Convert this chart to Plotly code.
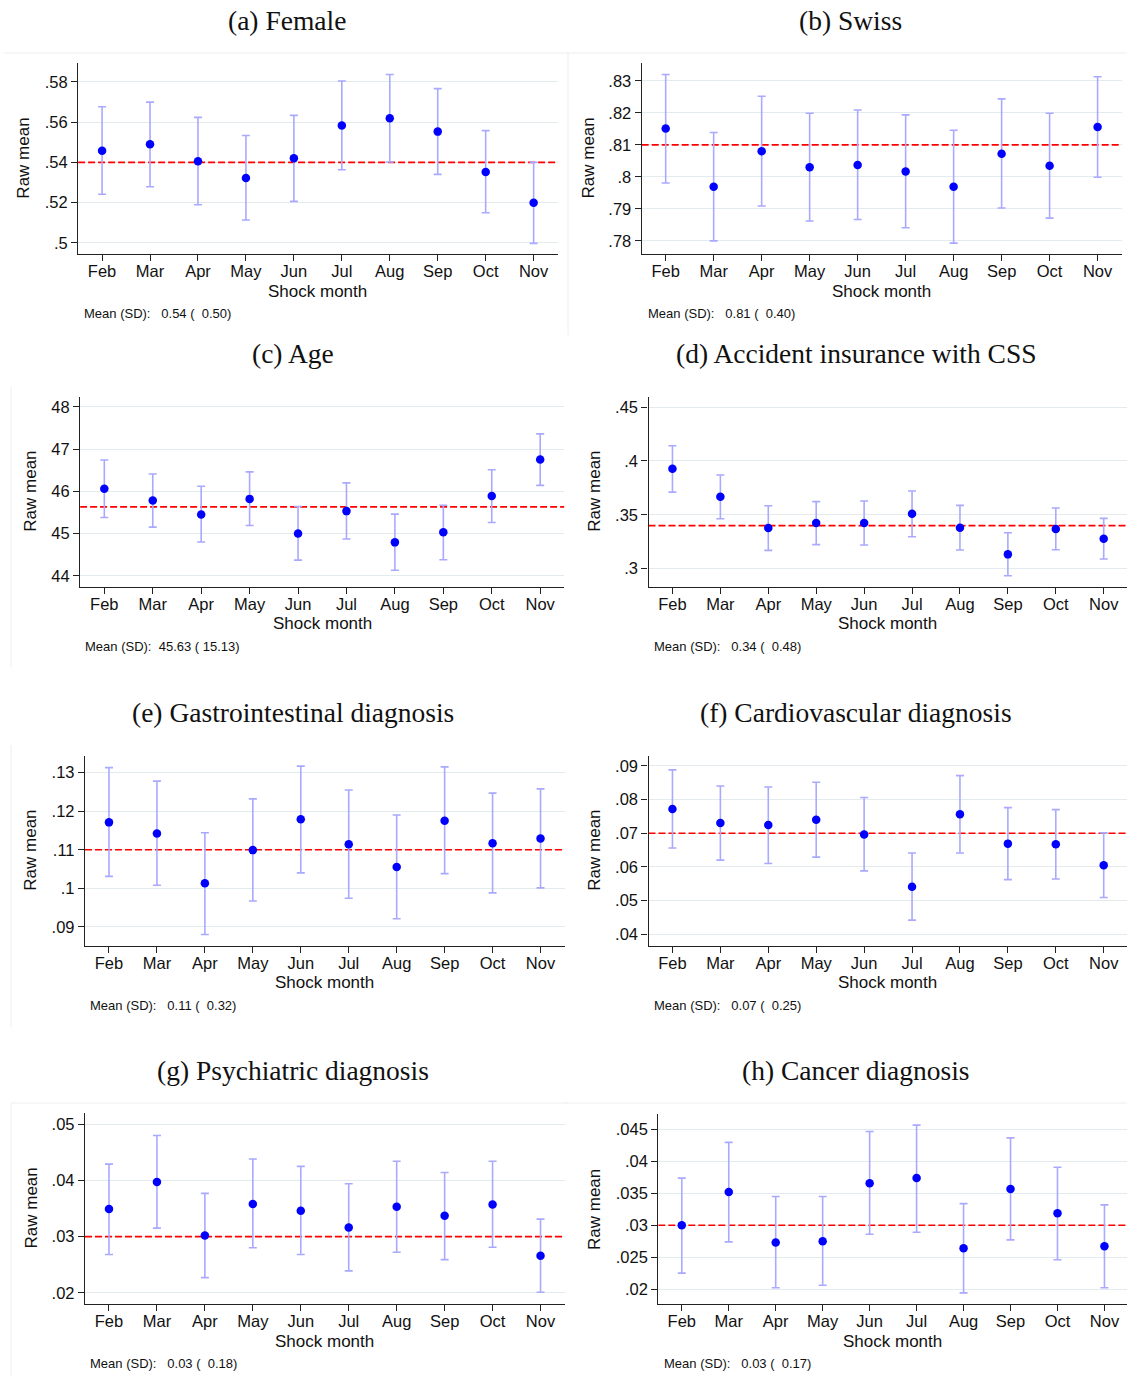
import plotly.graph_objects as go

W, H = 1127, 1376

# ---------------------------------------------------------------- data
months = ["Feb", "Mar", "Apr", "May", "Jun", "Jul", "Aug", "Sep", "Oct", "Nov"]

female_mean = [0.5458, 0.5490, 0.5405, 0.5322, 0.5420, 0.5584, 0.5619, 0.5553, 0.5352, 0.5199]
female_hi = [0.5677, 0.5700, 0.5624, 0.5534, 0.5634, 0.5805, 0.5837, 0.5767, 0.5558, 0.5400]
female_lo = [0.5241, 0.5279, 0.5189, 0.5113, 0.5206, 0.5363, 0.5402, 0.5340, 0.5149, 0.4997]

swiss_mean = [0.8151, 0.7969, 0.8080, 0.8030, 0.8037, 0.8017, 0.7969, 0.8072, 0.8035, 0.8156]
swiss_hi = [0.8320, 0.8139, 0.8252, 0.8199, 0.8209, 0.8194, 0.8146, 0.8244, 0.8199, 0.8313]
swiss_lo = [0.7981, 0.7800, 0.7909, 0.7862, 0.7867, 0.7841, 0.7793, 0.7903, 0.7871, 0.7999]

age_mean = [46.06, 45.78, 45.45, 45.82, 45.00, 45.53, 44.79, 45.03, 45.89, 46.75]
age_hi = [46.74, 46.41, 46.12, 46.46, 45.64, 46.20, 45.46, 45.67, 46.51, 47.36]
age_lo = [45.38, 45.15, 44.80, 45.19, 44.37, 44.87, 44.13, 44.38, 45.26, 46.14]

css_mean = [0.3928, 0.3668, 0.3377, 0.3424, 0.3424, 0.3510, 0.3380, 0.3133, 0.3368, 0.3278]
css_hi = [0.4141, 0.3869, 0.3584, 0.3622, 0.3628, 0.3721, 0.3588, 0.3334, 0.3563, 0.3467]
css_lo = [0.3711, 0.3464, 0.3170, 0.3223, 0.3220, 0.3297, 0.3173, 0.2935, 0.3176, 0.3090]

gastro_mean = [0.1171, 0.1142, 0.1013, 0.1099, 0.1179, 0.1114, 0.1055, 0.1175, 0.1117, 0.1129]
gastro_hi = [0.1313, 0.1278, 0.1144, 0.1232, 0.1317, 0.1255, 0.1190, 0.1315, 0.1247, 0.1258]
gastro_lo = [0.1031, 0.1008, 0.0880, 0.0967, 0.1040, 0.0974, 0.0921, 0.1038, 0.0988, 0.1001]

cardio_mean = [0.0772, 0.0730, 0.0724, 0.0740, 0.0696, 0.0541, 0.0756, 0.0669, 0.0667, 0.0605]
cardio_hi = [0.0888, 0.0840, 0.0837, 0.0851, 0.0806, 0.0641, 0.0871, 0.0776, 0.0770, 0.0701]
cardio_lo = [0.0656, 0.0620, 0.0610, 0.0629, 0.0588, 0.0442, 0.0641, 0.0562, 0.0564, 0.0509]

psych_mean = [0.0349, 0.0397, 0.0302, 0.0358, 0.0346, 0.0316, 0.0353, 0.0337, 0.0357, 0.0266]
psych_hi = [0.0429, 0.0480, 0.0377, 0.0438, 0.0425, 0.0394, 0.0434, 0.0414, 0.0434, 0.0331]
psych_lo = [0.0268, 0.0315, 0.0227, 0.0280, 0.0268, 0.0239, 0.0272, 0.0259, 0.0281, 0.0201]

cancer_mean = [0.0300, 0.0352, 0.0273, 0.0275, 0.0366, 0.0374, 0.0264, 0.0357, 0.0319, 0.0267]
cancer_hi = [0.0374, 0.0430, 0.0345, 0.0345, 0.0447, 0.0457, 0.0334, 0.0437, 0.0391, 0.0332]
cancer_lo = [0.0225, 0.0274, 0.0202, 0.0206, 0.0286, 0.0289, 0.0194, 0.0277, 0.0246, 0.0202]

titles = ["(a) Female", "(b) Swiss", "(c) Age", "(d) Accident insurance with CSS",
          "(e) Gastrointestinal diagnosis", "(f) Cardiovascular diagnosis",
          "(g) Psychiatric diagnosis", "(h) Cancer diagnosis"]

# overall sample mean and SD per outcome
overall_mean = [0.54, 0.81, 45.63, 0.34, 0.11, 0.07, 0.03, 0.03]
overall_sd = [0.50, 0.40, 15.13, 0.48, 0.32, 0.25, 0.18, 0.17]

tick_vals = [
    [0.50, 0.52, 0.54, 0.56, 0.58],
    [0.78, 0.79, 0.80, 0.81, 0.82, 0.83],
    [44, 45, 46, 47, 48],
    [0.30, 0.35, 0.40, 0.45],
    [0.09, 0.10, 0.11, 0.12, 0.13],
    [0.04, 0.05, 0.06, 0.07, 0.08, 0.09],
    [0.02, 0.03, 0.04, 0.05],
    [0.020, 0.025, 0.030, 0.035, 0.040, 0.045],
]
tick_text = [
    [".5", ".52", ".54", ".56", ".58"],
    [".78", ".79", ".8", ".81", ".82", ".83"],
    ["44", "45", "46", "47", "48"],
    [".3", ".35", ".4", ".45"],
    [".09", ".1", ".11", ".12", ".13"],
    [".04", ".05", ".06", ".07", ".08", ".09"],
    [".02", ".03", ".04", ".05"],
    [".02", ".025", ".03", ".035", ".04", ".045"],
]

series = [
    (female_mean, female_lo, female_hi),
    (swiss_mean, swiss_lo, swiss_hi),
    (age_mean, age_lo, age_hi),
    (css_mean, css_lo, css_hi),
    (gastro_mean, gastro_lo, gastro_hi),
    (cardio_mean, cardio_lo, cardio_hi),
    (psych_mean, psych_lo, psych_hi),
    (cancer_mean, cancer_lo, cancer_hi),
]

# ---------------------------------------------------------------- layout (pixels)
# plot box: left, right, top, bottom ; x range ; y range
boxes = [
    dict(l=78.1, r=557.6, t=63.3, b=254.0, xr=[-0.5, 9.5], yr=[0.4944, 0.5893]),
    dict(l=641.7, r=1121.6, t=63.0, b=254.0, xr=[-0.5, 9.5], yr=[0.7759, 0.8356]),
    dict(l=80.1, r=564.4, t=396.7, b=586.7, xr=[-0.5, 9.5], yr=[43.74, 48.24]),
    dict(l=648.5, r=1127.0, t=396.7, b=586.7, xr=[-0.5, 9.486], yr=[0.2833, 0.4596]),
    dict(l=85.0, r=564.5, t=755.7, b=945.7, xr=[-0.5, 9.5], yr=[0.0851, 0.1344]),
    dict(l=648.5, r=1127.0, t=755.7, b=945.7, xr=[-0.5, 9.486], yr=[0.0366, 0.0930]),
    dict(l=85.0, r=564.5, t=1113.0, b=1304.0, xr=[-0.5, 9.5], yr=[0.0180, 0.0520]),
    dict(l=658.3, r=1127.0, t=1114.0, b=1304.0, xr=[-0.5, 9.48], yr=[0.01765, 0.04745]),
]
title_pos = [(287, 20), (850, 20), (293, 353), (856, 353),
             (293, 712), (856, 712), (293, 1070), (856, 1070)]
ylab_x = [24, 588, 31, 595, 31, 595, 31, 594]
note_pos = [(82, 314), (645.6, 314), (83, 646), (651.7, 646),
            (88.3, 1005), (651.7, 1005), (88.3, 1363), (661.8, 1363)]
xlab_y = [292, 292, 623, 623, 982, 982, 1341, 1341]

SANS = "Liberation Sans, Arial, sans-serif"
SERIF = "Liberation Serif, Times New Roman, serif"
INK = "#222222"
GRID = "#e3ebee"
BAR = "#a9a9ff"
DOT = "#0000ff"
MEANLINE = "#ff0000"
FRAME = "#eeeeee"


def px(x):
    return x / W


def py(y):
    return 1 - y / H


def pad(v):
    return ("%6.2f" % v).replace(" ", "\u00a0")


fig = go.Figure()
annotations = []
shapes = []

for i, ((m, lo, hi), box) in enumerate(zip(series, boxes)):
    n = i + 1
    xa = "x" if n == 1 else f"x{n}"
    ya = "y" if n == 1 else f"y{n}"
    xs = list(range(len(months)))

    # overall mean reference line across the full plot width (under the points)
    fig.add_trace(go.Scatter(
        x=box["xr"], y=[overall_mean[i], overall_mean[i]],
        xaxis=xa, yaxis=ya, mode="lines",
        line=dict(color=MEANLINE, width=1.6, dash="7px,3px"),
        showlegend=False, hoverinfo="skip", cliponaxis=True,
    ))

    fig.add_trace(go.Scatter(
        x=xs, y=m, xaxis=xa, yaxis=ya, mode="markers",
        marker=dict(color=DOT, size=8.5, line=dict(width=0)),
        error_y=dict(
            type="data", symmetric=False,
            array=[h - v for h, v in zip(hi, m)],
            arrayminus=[v - l for v, l in zip(m, lo)],
            color=BAR, thickness=1.6, width=4,
        ),
        showlegend=False, hoverinfo="skip",
    ))

    axis_common = dict(
        showline=True, linecolor=INK, linewidth=1.3,
        ticks="outside", ticklen=6, tickwidth=1.3, tickcolor=INK,
        tickfont=dict(family=SANS, size=16.5, color="#111111"),
        zeroline=False, fixedrange=True,
    )
    fig.update_layout(**{
        ("xaxis" if n == 1 else f"xaxis{n}"): dict(
            axis_common,
            domain=[px(box["l"]), px(box["r"])],
            anchor=ya, range=box["xr"],
            tickmode="array", tickvals=xs, ticktext=months,
            showgrid=False, ticklabelstandoff=-4,
        ),
        ("yaxis" if n == 1 else f"yaxis{n}"): dict(
            axis_common,
            domain=[py(box["b"]), py(box["t"])],
            anchor=xa, range=box["yr"],
            tickmode="array", tickvals=tick_vals[i], ticktext=tick_text[i],
            showgrid=True, gridcolor=GRID, gridwidth=1.4,
            ticklabelstandoff=0,
        ),
    })

    tx, ty = title_pos[i]
    annotations.append(dict(
        text=titles[i], x=px(tx), y=py(ty), xref="paper", yref="paper",
        xanchor="center", yanchor="middle", showarrow=False,
        font=dict(family=SERIF, size=27.5, color="#111111"),
    ))
    annotations.append(dict(
        text="Raw mean", x=px(ylab_x[i]), y=py((box["t"] + box["b"]) / 2),
        xref="paper", yref="paper", xanchor="center", yanchor="middle",
        textangle=-90, showarrow=False,
        font=dict(family=SANS, size=17, color="#111111"),
    ))
    annotations.append(dict(
        text="Shock month", x=px((box["l"] + box["r"]) / 2), y=py(xlab_y[i]),
        xref="paper", yref="paper", xanchor="center", yanchor="middle",
        showarrow=False, font=dict(family=SANS, size=17, color="#111111"),
    ))
    nx, ny = note_pos[i]
    annotations.append(dict(
        text="Mean (SD):\u00a0" + pad(overall_mean[i]) + " (" + pad(overall_sd[i]) + ")",
        x=px(nx), y=py(ny), xref="paper", yref="paper",
        xanchor="left", yanchor="middle", showarrow=False,
        font=dict(family=SANS, size=13, color="#111111"),
    ))

# faint outlines of the sub-graph regions
frame_lines = [
    (4, 53, 568, 53), (568, 53, 568, 335),
    (566, 53, 1127, 53),
    (11, 387, 11, 667),
    (11, 745, 11, 1027),
    (11, 1103, 568, 1103), (11, 1103, 11, 1376),
    (566, 1103, 1127, 1103),
]
for x0, y0, x1, y1 in frame_lines:
    shapes.append(dict(
        type="line", xref="paper", yref="paper",
        x0=px(x0), y0=py(y0), x1=px(x1), y1=py(y1),
        line=dict(color=FRAME, width=1), layer="below",
    ))

fig.update_layout(
    width=W, height=H,
    margin=dict(l=0, r=0, t=0, b=0),
    paper_bgcolor="white", plot_bgcolor="white",
    annotations=annotations, shapes=shapes,
    showlegend=False,
)

fig.write_html("out.html", config={"displayModeBar": False})
